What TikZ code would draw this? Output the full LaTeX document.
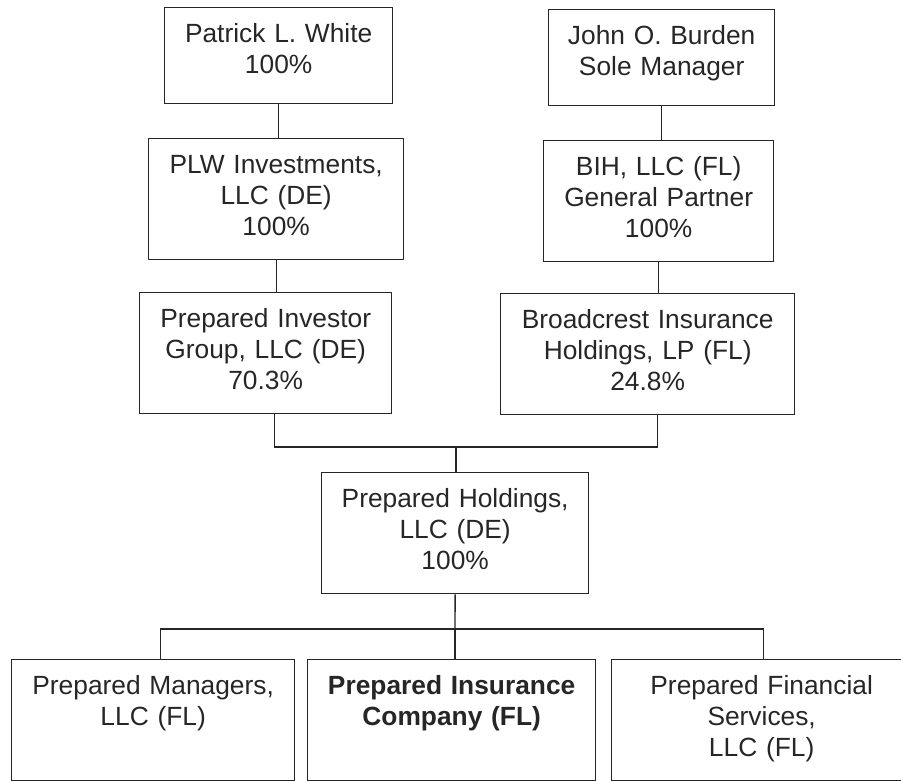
\documentclass[tikz,border=0pt]{standalone}
\usepackage{fontspec}
\setmainfont{Liberation Sans}
\usepackage{xcolor}
\usepackage{tikz}
\usetikzlibrary{positioning}

\begin{document}
\begin{tikzpicture}[x=0.6pt, y=-0.6pt,
    entity/.style={rectangle, draw=black!85, line width=0.8pt, inner sep=0pt, align=center, anchor=north west,
        text=black!85, font=\fontsize{15.8pt}{18.6pt}\selectfont, text height=21pt, text depth=51.6pt},
    owner/.style={entity, text depth=36.6pt},
    link/.style={draw=black!85, line width=0.8pt}]

    \useasboundingbox (0,0) rectangle (901,781);
    \clip (0,0) rectangle (901,781);

    % Owners
    \node[owner, text width=136.8pt] (white) at (164,7) {Patrick L. White\\100\%};
    \node[owner, text width=135.6pt] (burden) at (548,9) {John O. Burden\\Sole Manager};

    % Intermediate entities
    \node[entity, text width=153pt] (plw) at (148,138) {PLW Investments,\\LLC (DE)\\100\%};
    \node[entity, text width=138pt] (bih) at (543,140) {BIH, LLC (FL)\\General Partner\\100\%};
    \node[entity, text width=151.2pt] (pig) at (139,292) {Prepared Investor\\Group, LLC (DE)\\70.3\%};
    \node[entity, text width=176.4pt] (broadcrest) at (500,293) {Broadcrest Insurance\\Holdings, LP (FL)\\24.8\%};

    % Holding company
    \node[entity, text width=160.2pt] (holdings) at (321,472) {Prepared Holdings,\\LLC (DE)\\100\%};

    % Subsidiaries
    \node[entity, text width=169.8pt] (managers) at (11,659) {Prepared Managers,\\LLC (FL)};
    \node[entity, text width=172.8pt] (insurance) at (307,659) {\textbf{Prepared Insurance}\\\textbf{Company (FL)}};
    \node[entity, text width=180pt] (financial) at (611,659) {Prepared Financial\\Services,\\LLC (FL)};

    % Bus points
    \coordinate (upperbus) at (456,447);
    \coordinate (lowerbus) at (455,629);

    % Lines
    \draw[link] (white.south) -- (white.south |- plw.north);
    \draw[link] (burden.south) -- (burden.south |- bih.north);
    \draw[link] (plw.south) -- (plw.south |- pig.north);
    \draw[link] (bih.south) -- (bih.south |- broadcrest.north);
    \draw[link] ([xshift=5.4pt]pig.south) |- (upperbus) -| ([xshift=6pt]broadcrest.south);
    \draw[link] (upperbus) -- (upperbus |- holdings.north);
    \draw[link] (holdings.south |- holdings.south) -- (lowerbus);
    \draw[link] ([xshift=4.5pt]managers.north) |- (lowerbus) -| ([xshift=1.2pt]financial.north);
    \draw[link] (lowerbus) -- (lowerbus |- insurance.north);

\end{tikzpicture}
\end{document}
